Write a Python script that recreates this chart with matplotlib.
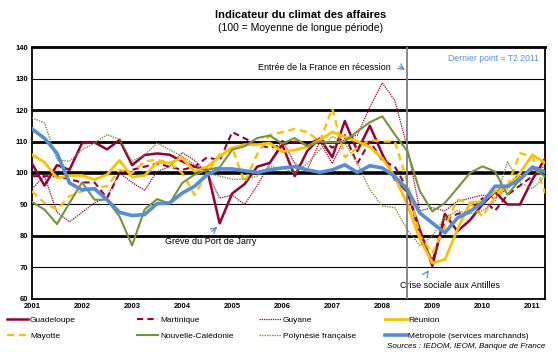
import matplotlib.pyplot as plt
from matplotlib.lines import Line2D

plt.rcParams['font.family'] = ['Liberation Sans', 'DejaVu Sans']

years = ['2001', '2002', '2003', '2004', '2005', '2006', '2007', '2008', '2009', '2010', '2011']

# trimestriel, T1 2001 -> T2 2011
guadeloupe = [103, 96, 102.5, 101, 109.5, 109.7, 107.5, 110.5, 102.5, 105.7,
              106.2, 105.8, 103.7, 102, 101, 84, 93.5, 96.5, 102, 103.2,
              109, 99, 107, 111, 105, 116.5, 107, 115, 106, 98,
              94, 82, 70.5, 87, 81.5, 85, 90, 94, 90, 90,
              98, 104.5]
martinique = [99, 99, 99, 98, 97, 97, 92, 100, 101, 102,
              103, 102, 101, 102, 105, 104, 113, 111, 109, 108,
              109, 110, 109, 111, 108, 112, 103, 110, 104, 102,
              95, 80, 72, 85, 87, 88, 92, 88, 93, 96,
              99, 101]
guyane = [95, 99, 87.5, 84.5, 87.5, 90.5, 92.5, 100, 97, 94.5,
          100.5, 102, 106.5, 104, 100, 92, 93, 90, 96, 103,
          110.5, 103, 101, 110, 103, 111, 112, 121, 128.6, 123,
          108, 88, 89, 88, 91, 92, 93, 92, 95, 99,
          101, 102]
reunion = [105.8, 103.4, 98.4, 99.2, 99.2, 97.9, 99.5, 104, 98.7, 99.2,
           103.4, 103.2, 104.8, 100.5, 102, 105.2, 108, 109, 109, 109.5,
           106.8, 107.3, 108.3, 110.5, 113, 111.5, 110, 108.3, 104.6, 98.8,
           90, 79, 71.4, 72.5, 82, 90.5, 91, 94.2, 95.8, 100,
           105.8, 103.2]
mayotte = [94.2, 90.5, 88.4, 92.6, 94.2, 95.2, 95.8, 101, 100, 103.7,
           104.2, 103.2, 100, 93, 100, 106, 108, 97, 106, 112,
           113, 114, 113, 110, 120.5, 105, 108, 110.5, 110, 110,
           97, 80, 74.6, 83, 91.5, 90.5, 86.2, 92.6, 95.8, 106.3,
           105.3, 93.6]
nouvelle_caledonie = [90.8, 88.4, 83.8, 90.5, 97, 91.5, 91.5, 86.2, 77, 88.4,
                      91.7, 90.3, 96.8, 99.5, 101, 101.8, 107.4, 108.5, 111.1, 111.9,
                      109.3, 111.1, 108.5, 110, 109.7, 110, 113.2, 116.1, 118, 112.2,
                      106.9, 94.2, 87.8, 90.5, 95.2, 100, 102.1, 100.5, 93.1, 97.9,
                      101.6, 98.9]
polynesie = [117.5, 115.9, 104.2, 103.7, 107.4, 109.5, 112.2, 110.6, 103.7, 105.8,
             109.5, 107.4, 105.3, 102.6, 100, 99, 98, 98, 99, 102,
             101.6, 100, 103, 107.3, 111.6, 109.5, 103.2, 94.7, 89.5, 89,
             82, 77, 80, 86, 88, 87, 88, 91, 103.5, 97,
             95, 99]
metropole = [114, 111, 106.3, 96.8, 94.7, 95, 91.5, 87.5, 86.5, 86.8,
             90.3, 90.5, 93.6, 95.8, 99.5, 101.3, 101.3, 100.7, 100.2, 101,
             101.6, 102, 101, 100.2, 101, 102.6, 100.2, 102.3, 101.6, 98.9,
             94.7, 87.3, 84.1, 81, 85.7, 87.8, 90.5, 95.8, 95.8, 97.9,
             101.9, 100.3]

red = '#990033'
gold = '#FFC000'
olive = '#77933C'
blue = '#558ED5'

q = list(range(len(metropole)))

fig = plt.figure(figsize=(5.58, 3.54), dpi=100)
ax = fig.add_axes([0.0573, 0.1554, 0.9194, 0.7118])

# quadrillage
for v, w in [(130, 0.8), (120, 2.0), (110, 2.0), (100, 2.6), (90, 0.8), (80, 2.0), (70, 0.8)]:
    ax.axhline(v, color='black', lw=w, zorder=1)

series = [
    (guadeloupe, 'Guadeloupe', dict(color=red, lw=1.8, ls='-')),
    (martinique, 'Martinique', dict(color=red, lw=1.5, ls=(0, (3, 2)))),
    (guyane, 'Guyane', dict(color=red, lw=0.9, ls=(0, (1, 0.8)))),
    (reunion, 'Réunion', dict(color=gold, lw=2.0, ls='-')),
    (mayotte, 'Mayotte', dict(color=gold, lw=1.7, ls=(0, (3, 2)))),
    (nouvelle_caledonie, 'Nouvelle-Calédonie', dict(color=olive, lw=1.5, ls='-')),
    (polynesie, 'Polynésie française', dict(color=olive, lw=1.0, ls=(0, (1, 0.8)))),
    (metropole, 'Métropole (services marchands)', dict(color=blue, lw=2.6, ls='-')),
]
lines = []
for data, name, st in series:
    ln, = ax.plot(q, data, label=name, zorder=3, **st)
    lines.append(ln)

ax.axvline(30, color='#7f7f7f', lw=1.3, zorder=4)

ax.set_xlim(0, 41)
ax.set_ylim(60, 140)
ax.set_yticks(range(60, 141, 10))
ax.set_xticks(range(0, 41, 4))
ax.set_xticklabels(years)
ax.tick_params(axis='both', length=0, labelsize=5.5, pad=3)
for lab in ax.get_xticklabels() + ax.get_yticklabels():
    lab.set_fontweight('bold')
for s in ['left', 'right', 'bottom']:
    ax.spines[s].set_linewidth(1.3)
ax.spines['top'].set_linewidth(2.0)

# annotations
ax.text(18.1, 133.6, 'Entrée de la France en récession', fontsize=6.5, va='center')
ax.annotate('', xy=(30.0, 132.2), xytext=(29.2, 134.3),
            arrowprops=dict(arrowstyle='->', color=blue, lw=0.9))
ax.text(36.9, 136.4, 'Dernier point = T2 2011', fontsize=6.2, color=blue, ha='center', va='center')
ax.text(10.6, 78.2, 'Grève du Port de Jarry', fontsize=6.5, va='center')
ax.annotate('', xy=(15.0, 83.5), xytext=(14.2, 80.9),
            arrowprops=dict(arrowstyle='->', color=blue, lw=0.9))
ax.text(29.4, 64.2, 'Crise sociale aux Antilles', fontsize=6.5, va='center')
ax.annotate('', xy=(31.85, 69.8), xytext=(31.45, 67.6),
            arrowprops=dict(arrowstyle='->', color=blue, lw=0.9))

fig.text(0.538, 0.958, 'Indicateur du climat des affaires', ha='center', va='center',
         fontsize=8, fontweight='bold')
fig.text(0.538, 0.922, '(100 = Moyenne de longue période)', ha='center', va='center', fontsize=7.5)

# légende en 4 colonnes
cols = [(0.012, [0, 4]), (0.245, [1, 5]), (0.465, [2, 6]), (0.69, [3, 7])]
for x0, idx in cols:
    fig.legend([lines[i] for i in idx], [lines[i].get_label() for i in idx],
               loc='upper left', bbox_to_anchor=(x0, 0.108), frameon=False,
               fontsize=6, handlelength=2.6, handletextpad=0.2, labelspacing=1.0,
               borderpad=0, borderaxespad=0)

fig.text(0.978, 0.02, 'Sources : IEDOM, IEOM, Banque de France', ha='right', va='center',
         fontsize=5.8, style='italic')

fig.savefig('out.png', dpi=100)
